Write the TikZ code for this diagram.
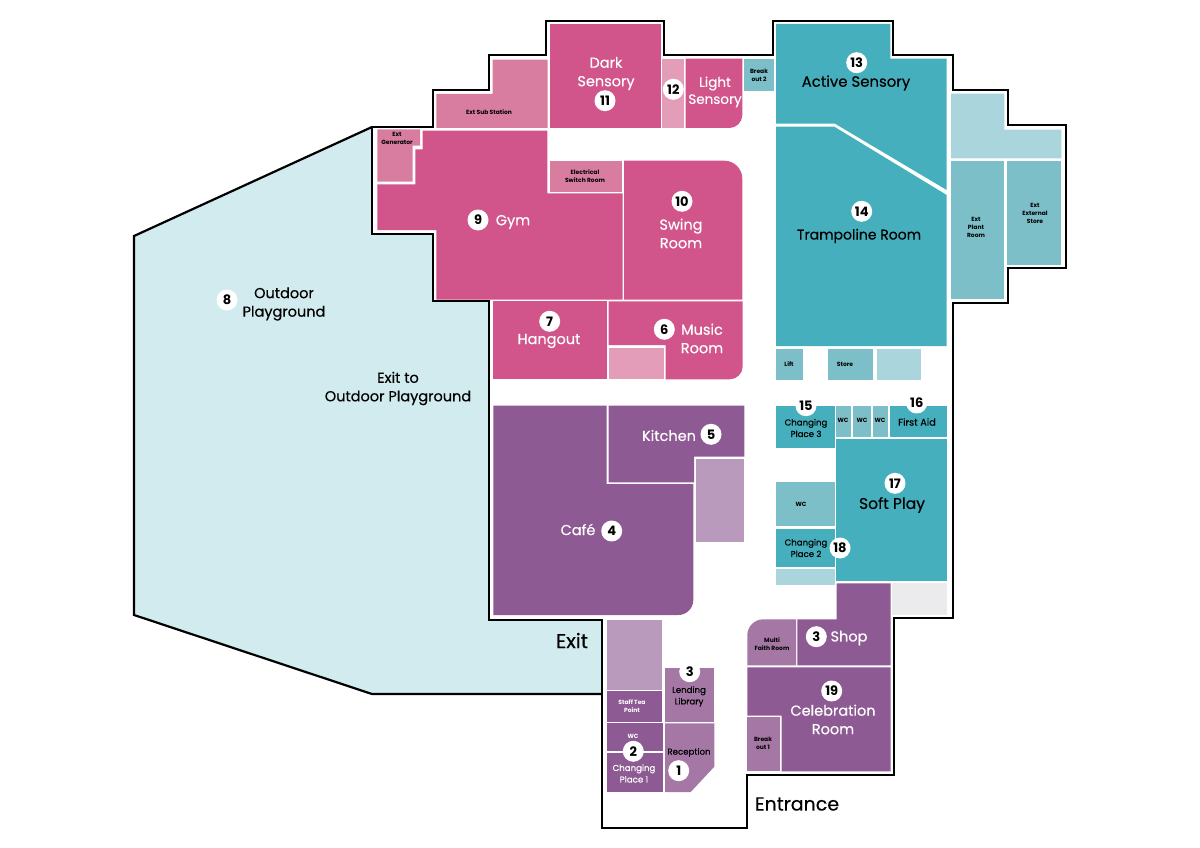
\documentclass[tikz,border=0pt]{standalone}
\usepackage{fontspec}
\setmainfont{Poppins}[FakeBold=0.35]
\newfontfamily\numfont{Poppins}
\definecolor{cPink}{HTML}{D1558A}
\definecolor{cPinkB}{HTML}{D87DA0}
\definecolor{cPinkC}{HTML}{E49DB8}
\definecolor{cPur}{HTML}{8E5A93}
\definecolor{cPurB}{HTML}{A577A5}
\definecolor{cPurC}{HTML}{BA9ABC}
\definecolor{cTeal}{HTML}{46AFBD}
\definecolor{cTealB}{HTML}{7DBFC9}
\definecolor{cTealC}{HTML}{ABD5DC}
\definecolor{cBlue}{HTML}{D2EBEF}
\definecolor{cGrey}{HTML}{EBEBEE}
\tikzset{
 lab/.style={inner sep=0pt,align=center,text=black},
 big/.style={lab,font=\fontsize{14.5}{18.5}\selectfont},
 mid/.style={lab,font=\fontsize{8.6}{11.5}\selectfont},
 tiny/.style={lab,font=\numfont\fontsize{6}{8}\selectfont\bfseries},
 wt/.style={text=white},
 num/.style={circle,fill=white,minimum size=21pt,inner sep=0pt,text=black,font=\numfont\fontsize{13}{14}\selectfont\bfseries},
 outl/.style={draw=black,line width=2.8pt,line join=miter},
}
\begin{document}
\begin{tikzpicture}[x=1pt,y=-1pt]
\useasboundingbox (0,0) rectangle (1200,848);
% playground
\fill[cBlue] (134,236) -- (372,127) -- (372,234) -- (433,234) -- (433,301) -- (489,301) -- (489,620) -- (602,620) -- (602,694) -- (372,694) -- (134,615) -- cycle;
% outline
\draw[outl] (372,127) -- (433,127) -- (433,90) -- (489,90) -- (489,55) -- (546,55) -- (546,21) -- (664,21) -- (664,55) -- (773,55) -- (773,21) -- (893,21) -- (893,55) -- (953,55) -- (953,90) -- (1008,90) -- (1008,125) -- (1066,125) -- (1066,268) -- (1008,268) -- (1008,303) -- (953,303) -- (953,618) -- (894,618) -- (894,775) -- (747,775) -- (747,828) -- (602,828) -- (602,620) -- (489,620) -- (489,301) -- (433,301) -- (433,234) -- (372,234) -- cycle;
\draw[draw=black,line width=2.2pt,line join=miter] (372,127) -- (134,236) -- (134,615) -- (372,694) -- (602,694);
% pink rooms
\fill[cPink] (549.7,24) rectangle (660.7,128);
\fill[cPinkC] (662.3,58.7) rectangle (684.3,128);
\fill[cPink] (685.7,58.7) -- (742.3,58.7) [rounded corners=13pt] -- (742.3,128) [sharp corners] -- (685.7,128) -- cycle;
\fill[cPinkB] (436.3,128) -- (436.3,94) -- (492.7,94) -- (492.7,59.7) -- (547.7,59.7) -- (547.7,128) -- cycle;
\fill[cPinkB] (377.3,129.3) -- (420,129.3) -- (420,145.7) -- (412.7,145.7) -- (412.7,181.7) -- (377.3,181.7) -- cycle;
\fill[cPink] (422.7,130.7) -- (547.3,130.7) -- (547.3,193.3) -- (622.7,193.3) -- (622.7,299.5) -- (436.3,299.5) -- (436.3,230) -- (377.3,230) -- (377.3,184.3) -- (415.3,184.3) -- (415.3,149.3) -- (422.7,149.3) -- cycle;
\fill[cPinkB] (549.7,160.7) rectangle (622.3,192);
\fill[cPink] (624,160.7) [rounded corners=18pt] -- (742.3,160.7) [sharp corners] -- (742.3,299.5) -- (624,299.5) -- cycle;
\fill[cPink] (493.3,301.3) rectangle (606.7,379.3);
\fill[cPink] (608.7,301.3) -- (742.7,301.3) [rounded corners=13pt] -- (742.7,379.3) [sharp corners] -- (665.7,379.3) -- (665.7,345) -- (608.7,345) -- cycle;
\fill[cPinkC] (608.7,347.5) rectangle (664,379.3);
% purple rooms
\fill[cPur] (493.3,405.7) -- (606.7,405.7) -- (606.7,484) -- (693.3,484) [rounded corners=15pt] -- (693.3,615) [sharp corners] -- (493.3,615) -- cycle;
\fill[cPur] (608.7,405.7) -- (744.3,405.7) -- (744.3,456.7) -- (694,456.7) -- (694,482.3) -- (608.7,482.3) -- cycle;
\fill[cPurC] (696,458.7) rectangle (744.3,542);
\fill[cPurC] (606.7,620) rectangle (662.3,690);
\fill[cPur] (606.7,691.3) rectangle (662.3,721.7);
\fill[cPur] (606.7,723.3) rectangle (663,751);
\fill[cPur] (606.7,752.7) rectangle (663,792);
\fill[cPurB] (665,723.3) -- (714.3,723.3) -- (714.3,766.7) -- (690.7,792) -- (665,792) -- cycle;
\fill[cPurB] (665,667.7) rectangle (714.3,721.7);
\fill[cPurB] (747.3,665.3) [rounded corners=16pt] -- (747.3,619.3) [sharp corners] -- (796,619.3) -- (796,665.3) -- cycle;
\fill[cPur] (797.3,619.3) -- (836.7,619.3) -- (836.7,583.3) -- (890.5,583.3) -- (890.5,665.3) -- (797.3,665.3) -- cycle;
\fill[cGrey] (892.3,582.7) rectangle (946.7,615);
\fill[cPur] (747.3,667.3) -- (890.5,667.3) -- (890.5,771.3) -- (781.7,771.3) -- (781.7,715.7) -- (747.3,715.7) -- cycle;
\fill[cPurB] (747.3,716.7) rectangle (780,771.3);
% teal rooms
\fill[cTealB] (744,58.7) rectangle (774.3,91.3);
\fill[cTeal] (776,24) -- (890.3,24) -- (890.3,58.7) -- (946.7,58.7) -- (946.7,190) -- (835,123.7) -- (776,123.7) -- cycle;
\fill[cTeal] (776,126.7) -- (834.3,126.7) -- (946.7,195) -- (946.7,346) -- (776,346) -- cycle;
\fill[cTealC] (951,93.7) -- (1004.3,93.7) -- (1004.3,129.7) -- (1061.3,129.7) -- (1061.3,158.3) -- (951,158.3) -- cycle;
\fill[cTealB] (951,161.3) rectangle (1004.3,299.3);
\fill[cTealB] (1006.7,161.3) rectangle (1061.3,265);
\fill[cTealB] (776,349) rectangle (803.3,380);
\fill[cTealB] (827.7,349) rectangle (873.3,380);
\fill[cTealC] (877.3,349) rectangle (921.3,380);
\fill[cTeal] (776,405.7) rectangle (835,448.3);
\fill[cTealB] (836.3,405.7) rectangle (851,437.3);
\fill[cTealB] (852.7,405.7) rectangle (871.3,437.3);
\fill[cTealB] (873.3,405.7) rectangle (888,437.3);
\fill[cTeal] (890.3,405.7) rectangle (946.7,437.3);
\fill[cTeal] (836.3,439.3) rectangle (946.7,581);
\fill[cTealB] (776,482.3) rectangle (835,526);
\fill[cTeal] (776,528.7) rectangle (835,566.7);
\fill[cTealC] (776,568.7) rectangle (835,585);
% labels
\node[big] (t8) at (284,304) {Outdoor\\Playground};
\node[big] (t8b) at (398,388.5) {Exit to\\Outdoor Playground};
\node[lab,font=\fontsize{20}{22}\selectfont] (tExit) at (572,640.5) {Exit};
\node[lab,font=\fontsize{19}{22}\selectfont] (tEnt) at (797,804) {Entrance};
\node[big,wt] (t11) at (606,73.5) {Dark\\Sensory};
\node[lab,wt,font=\fontsize{13.5}{17}\selectfont] (t12) at (715,92) {Light\\Sensory};
\node[big,wt] (t9) at (513,222) {Gym};
\node[big,wt] (t10) at (681,233.5) {Swing\\Room};
\node[big,wt] (t7) at (549,341) {Hangout};
\node[big,wt] (t6) at (702,338.5) {Music\\Room};
\node[big,wt] (t5) at (669,435.5) {Kitchen};
\node[big,wt] (t4) at (578,529.5) {Café};
\node[lab,font=\fontsize{14.9}{18}\selectfont] (t13) at (856,83) {Active Sensory};
\node[lab,font=\fontsize{14}{18}\selectfont] (t14) at (859,236) {Trampoline Room};
\node[lab,font=\fontsize{15.5}{18}\selectfont] (t17) at (892,505) {Soft Play};
\node[mid] (t15) at (806,428) {Changing\\Place 3};
\node[lab,font=\fontsize{9.7}{11.5}\selectfont] (t16) at (917,422) {First Aid};
\node[mid] (t18) at (806,548) {Changing\\Place 2};
\node[big,wt] (t3) at (849,638) {Shop};
\node[big,wt] (t19) at (833,719.5) {Celebration\\Room};
\node[mid] (tLL) at (689,696.5) {Lending\\Library};
\node[mid] (tRe) at (689,752.5) {Reception};
\node[mid,wt] (tCP1) at (634,773.5) {Changing\\Place 1};
\node[tiny,wt] (tWC1) at (633,736) {WC};
\node[tiny,wt] (tST) at (632,706) {Staff Tea\\Point};
\node[tiny] (tMF) at (772,644) {Multi\\Faith Room};
\node[tiny] (tB1) at (763,743) {Break\\out 1};
\node[tiny] (tB2) at (759,75) {Break\\out 2};
\node[tiny] (tSub) at (489,112) {Ext Sub Station};
\node[tiny] (tGen) at (397,138) {Ext\\Generator};
\node[tiny] (tEl) at (585,176) {Electrical\\Switch Room};
\node[tiny] (tPl) at (976,227) {Ext\\Plant\\Room};
\node[tiny] (tEx) at (1035,213) {Ext\\External\\Store};
\node[tiny] (tLi) at (789,364) {Lift};
\node[tiny] (tSt) at (845,364) {Store};
\node[tiny] (tW1) at (843,420) {WC};
\node[tiny] (tW2) at (862,420) {WC};
\node[tiny] (tW3) at (880,420) {WC};
\node[tiny] (tW4) at (801,504) {WC};
% number discs
\node[num] (n1) at (678.7,770.7) {1};
\node[num] (n2) at (633.3,751.3) {2};
\node[num] (n3a) at (689.7,671.7) {3};
\node[num] (n3b) at (816.3,636.7) {3};
\node[num] (n4) at (611.7,531) {4};
\node[num] (n5) at (711,434.3) {5};
\node[num] (n6) at (664.3,329.3) {6};
\node[num] (n7) at (549.7,321.3) {7};
\node[num] (n8) at (227,300) {8};
\node[num] (n9) at (478,220) {9};
\node[num] (n10) at (682,201.3) {10};
\node[num] (n11) at (605,100.7) {11};
\node[num] (n12) at (673.3,89.3) {12};
\node[num] (n13) at (856.7,62.7) {13};
\node[num] (n14) at (861.7,211.3) {14};
\node[num] (n15) at (806,405.7) {15};
\node[num] (n16) at (916.7,403) {16};
\node[num] (n17) at (895,483.3) {17};
\node[num] (n18) at (840,548) {18};
\node[num] (n19) at (831.7,691) {19};
\end{tikzpicture}
\end{document}
